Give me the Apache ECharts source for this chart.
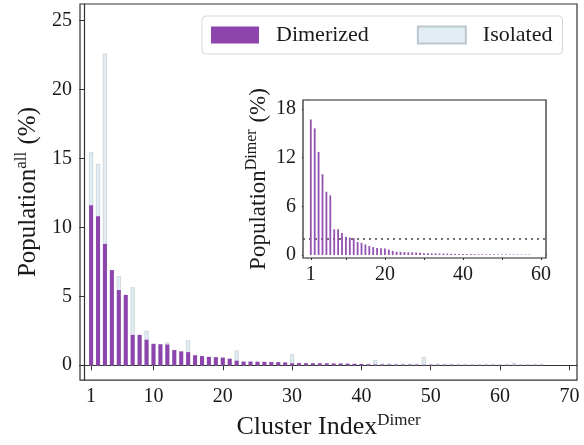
<!DOCTYPE html>
<html>
<head>
<meta charset="utf-8">
<script src="https://cdn.jsdelivr.net/npm/echarts@6/dist/echarts.min.js"></script>
<style>
html,body{margin:0;padding:0;background:#fff;}
#c{width:584px;height:445px;}
</style>
</head>
<body>
<div id="c"></div>
<script>
const mainTickValues = [1, 10, 20, 30, 40, 50, 60, 70];
const mainYTicks = [0, 5, 10, 15, 20, 25];
const insetXTicks = [1, 10, 20, 30, 40, 50, 60];
const insetXLabels = [1, 20, 40, 60];
const insetYTicks = [0, 6, 12, 18];

// Dimerized population (% of all), clusters 1..66
const dimerized = [
  11.6, 10.8, 8.8, 6.9, 5.45, 5.1, 2.2, 2.2, 1.85, 1.55,
  1.52, 1.5, 1.1, 1.0, 0.95, 0.72, 0.66, 0.6, 0.58, 0.55,
  0.47, 0.33, 0.26, 0.26, 0.25, 0.24, 0.23, 0.22, 0.2, 0.14,
  0.15, 0.14, 0.14, 0.13, 0.13, 0.12, 0.12, 0.11, 0.1, 0.09,
  0.06, 0.05, 0.05, 0.05, 0.04, 0.04, 0.04, 0.04, 0.03, 0.03,
  0.03, 0.03, 0.03, 0.02, 0.02, 0.02, 0.02, 0.02, 0.02, 0.02,
  0.02, 0.02, 0.02, 0.02, 0.02, 0.02
];
// Isolated population stacked on top (% of all), clusters 1..66
const isolated = [
  3.85, 3.8, 13.8, 0, 1.0, 0, 3.45, 0, 0.65, 0,
  0, 0.15, 0, 0, 0.85, 0, 0, 0, 0, 0,
  0, 0.74, 0, 0, 0, 0, 0, 0, 0, 0.66,
  0, 0, 0, 0, 0, 0, 0, 0, 0, 0,
  0.05, 0.33, 0.06, 0.06, 0.06, 0.06, 0.06, 0.06, 0.57, 0.06,
  0.06, 0.06, 0.06, 0.06, 0.06, 0.06, 0.06, 0.06, 0.06, 0.06,
  0.06, 0.15, 0.06, 0.06, 0.06, 0.06
];
// Inset: population within dimer (%), clusters 1..57
const dimerOnly = [
  16.7, 15.6, 12.7, 9.95, 7.8, 7.35, 3.17, 3.17, 2.7, 2.25,
  2.15, 2.1, 1.6, 1.5, 1.3, 1.1, 0.98, 0.86, 0.82, 0.8,
  0.66, 0.5, 0.4, 0.38, 0.36, 0.34, 0.32, 0.3, 0.27, 0.22,
  0.21, 0.2, 0.19, 0.18, 0.17, 0.16, 0.15, 0.14, 0.13, 0.12,
  0.11, 0.1, 0.1, 0.09, 0.09, 0.08, 0.08, 0.08, 0.07, 0.07,
  0.07, 0.06, 0.06, 0.06, 0.05, 0.05, 0.05
];
const threshold = 2;

const FONT = 'Liberation Serif';
const TXT = '#1a1a1a';
const PURPLE = '#8e44ad';

const mainX = dimerized.map((_, i) => i + 1);
const insetX = dimerOnly.map((_, i) => i + 1);
// stacked top of the isolated part (stack built manually: dimerized + isolated)
const stackTop = dimerized.map((d, i) => d + isolated[i]);

const chart = echarts.init(document.getElementById('c'), null, {renderer: 'canvas'});

const axisLine = {show: true, lineStyle: {color: '#333', width: 1.2}};
const axisTick = {show: true, length: 5, lineStyle: {color: '#333', width: 1}};

chart.setOption({
  animation: false,
  backgroundColor: '#fff',
  textStyle: {fontFamily: FONT, color: TXT},
  legend: {
    left: 202, top: 16,
    width: 367,
    padding: [8, 10, 8, 9],
    backgroundColor: '#fff',
    borderColor: '#d6d6d6', borderWidth: 1, borderRadius: 4,
    itemWidth: 48, itemHeight: 17, itemGap: 48,
    icon: 'rect',
    textStyle: {fontFamily: FONT, fontSize: 22, color: TXT, padding: [0, 0, 0, 12]},
    data: ['Dimerized', 'Isolated'],
    z: 20
  },
  grid: [
    {left: 80, right: 7, top: 4, bottom: 61, show: true, borderColor: '#333', borderWidth: 1.2, backgroundColor: 'transparent'},
    {left: 303, right: 38, top: 100, bottom: 187, show: true, borderColor: '#222', borderWidth: 1.2, backgroundColor: '#fff', z: 5}
  ],
  xAxis: [
    {
      type: 'value', gridIndex: 0, min: -0.6, max: 71.1,
      axisLine: axisLine,
      axisTick: Object.assign({}, axisTick, {customValues: mainTickValues}),
      axisLabel: {customValues: mainTickValues, fontFamily: FONT, fontSize: 20, color: TXT, margin: 7},
      splitLine: {show: false},
      name: '{b|Cluster Index}{s|Dimer}',
      nameLocation: 'middle', nameGap: 27,
      nameTextStyle: {
        rich: {
          b: {fontFamily: FONT, fontSize: 26, color: TXT, verticalAlign: 'bottom', lineHeight: 30},
          s: {fontFamily: FONT, fontSize: 17, color: TXT, verticalAlign: 'bottom', padding: [0, 0, 11, 0]}
        }
      }
    },
    {
      type: 'value', gridIndex: 1, min: -1, max: 61.3,
      axisLine: axisLine,
      axisTick: Object.assign({}, axisTick, {customValues: insetXTicks}),
      axisLabel: {customValues: insetXLabels, fontFamily: FONT, fontSize: 20, color: TXT, margin: 7},
      splitLine: {show: false}
    }
  ],
  yAxis: [
    {
      type: 'value', gridIndex: 0, min: -1.08, max: 26.2,
      axisLine: axisLine,
      axisTick: Object.assign({}, axisTick, {customValues: mainYTicks}),
      axisLabel: {customValues: mainYTicks, fontFamily: FONT, fontSize: 20, color: TXT, margin: 8},
      splitLine: {show: false},
      name: '{b|Population}{s|all}{b| (%)}',
      nameLocation: 'middle', nameGap: 38,
      nameTextStyle: {
        rich: {
          b: {fontFamily: FONT, fontSize: 25, color: TXT, verticalAlign: 'bottom', lineHeight: 30},
          s: {fontFamily: FONT, fontSize: 17, color: TXT, verticalAlign: 'bottom', padding: [0, 1, 11, 0]}
        }
      }
    },
    {
      type: 'value', gridIndex: 1, min: -0.37, max: 19.1,
      axisLine: axisLine,
      axisTick: Object.assign({}, axisTick, {customValues: insetYTicks}),
      axisLabel: {customValues: insetYTicks, fontFamily: FONT, fontSize: 20, color: TXT, margin: 7},
      splitLine: {show: false},
      name: '{b|Population}{s|Dimer}{b| (%)}',
      nameLocation: 'middle', nameGap: 33,
      nameTextStyle: {
        rich: {
          b: {fontFamily: FONT, fontSize: 23, color: TXT, verticalAlign: 'bottom', lineHeight: 28},
          s: {fontFamily: FONT, fontSize: 16, color: TXT, verticalAlign: 'bottom', padding: [0, 1, 10, 0]}
        }
      }
    }
  ],
  series: [
    {
      name: 'Isolated', type: 'bar', xAxisIndex: 0, yAxisIndex: 0,
      barWidth: 4, barGap: '-100%', z: 2,
      itemStyle: {color: '#e1ecf3', borderColor: '#bcc7cf', borderWidth: 0.6},
      data: mainX.map((x, i) => [x, stackTop[i]])
    },
    {
      name: 'Dimerized', type: 'bar', xAxisIndex: 0, yAxisIndex: 0,
      barWidth: 4, barGap: '-100%', z: 3,
      itemStyle: {color: PURPLE},
      data: mainX.map((x, i) => [x, dimerized[i]])
    },
    {
      name: 'inset', type: 'bar', xAxisIndex: 1, yAxisIndex: 1,
      barWidth: 1.8, z: 10,
      itemStyle: {color: '#9352b0'},
      data: insetX.map((x, i) => [x, dimerOnly[i]]),
      markLine: {
        silent: true, symbol: 'none', label: {show: false},
        lineStyle: {color: '#444', type: [2, 4], width: 1.5},
        data: [{yAxis: threshold}]
      }
    }
  ]
});
</script>
</body>
</html>
